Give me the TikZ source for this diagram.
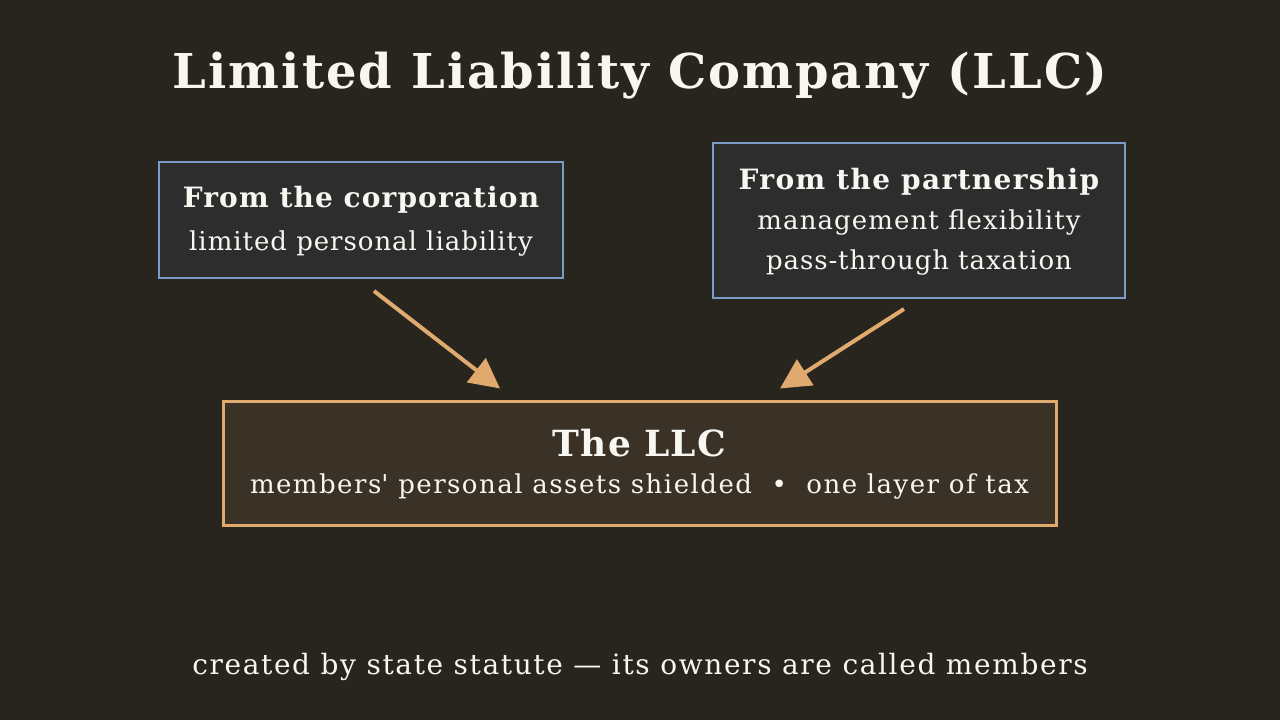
\documentclass[tikz,border=0pt]{standalone}
\usepackage{fontspec}
\setmainfont{DejaVu Serif}
\usetikzlibrary{arrows.meta}
\definecolor{bg}{HTML}{28251F}
\definecolor{boxfill}{HTML}{2D2D2D}
\definecolor{boxline}{HTML}{7A9CC6}
\definecolor{accent}{HTML}{E0A96D}
\definecolor{llcfill}{HTML}{3A3127}
\definecolor{txt}{HTML}{F8F6F0}
\newcommand{\ls}[1]{\addfontfeatures{LetterSpace=#1}}
\tikzset{
  srcbox/.style={draw=boxline, line width=2pt, fill=boxfill, inner sep=0pt},
  llcbox/.style={draw=accent, line width=3pt, fill=llcfill, inner sep=0pt},
  arr/.style={draw=accent, line width=4pt, -{Triangle[length=30pt,width=30pt]}},
  plain/.style={text=txt, align=center, inner sep=0pt}
}
\begin{document}
\begin{tikzpicture}[x=1pt,y=-1pt]
\fill[bg] (0,0) rectangle (1280,720);
\useasboundingbox (0,0) rectangle (1280,720);
\node[plain, font=\bfseries\fontsize{48}{50}\selectfont\ls{4.3}] (title) at (640,76) {Limited Liability Company (LLC)};
\node[srcbox, minimum width=404pt, minimum height=116pt] (corp) at (361,220) {};
\node[plain, font=\fontsize{26}{43}\selectfont] (corpt) at ([yshift=-1.5pt]corp.center)
  {{\bfseries\fontsize{28}{43}\selectfont\ls{4}From the corporation}\\{\ls{3.7}limited personal liability}};
\node[srcbox, minimum width=412pt, minimum height=155pt] (part) at (919,220.5) {};
\node[plain, font=\fontsize{26}{40}\selectfont] (partt) at ([yshift=-1.5pt]part.center)
  {{\bfseries\fontsize{28}{40}\selectfont\ls{4.8}From the partnership}\\{\ls{4.2}management flexibility}\\{\ls{3.5}pass-through taxation}};
\node[llcbox, minimum width=833pt, minimum height=124pt] (llc) at (639.5,463) {};
\node[plain, font=\fontsize{26}{37}\selectfont] (llct) at ([yshift=-1pt]llc.center)
  {{\bfseries\fontsize{36}{37}\selectfont\ls{3}The LLC}\\{\ls{5.7}members\textquotesingle{} personal assets shielded \ \textbullet\ \ one layer of tax}};
\node[plain, font=\fontsize{28}{30}\selectfont\ls{5.8}] (foot) at (640,667) {created by state statute — its owners are called members};
\draw[arr] ([xshift=13pt,yshift=-12pt]corp.south) -- ([xshift=-139.5pt,yshift=11pt]llc.north);
\draw[arr] ([xshift=-15pt,yshift=-10pt]part.south) -- ([xshift=140.5pt,yshift=11pt]llc.north);
\end{tikzpicture}
\end{document}
